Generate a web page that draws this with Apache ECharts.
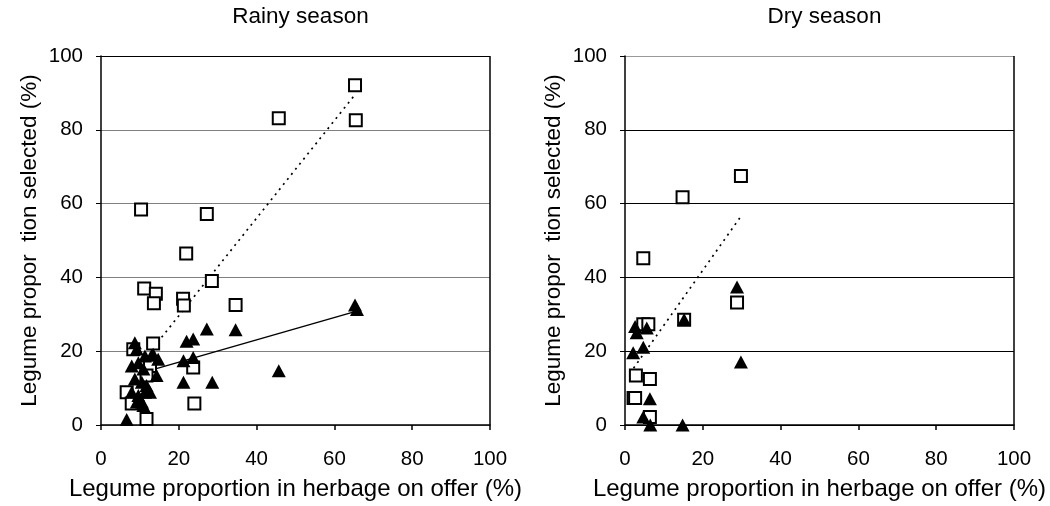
<!DOCTYPE html>
<html><head><meta charset="utf-8">
<script src="https://cdn.jsdelivr.net/npm/echarts@6/dist/echarts.min.js"></script>
<style>html,body{margin:0;padding:0;background:#fff}#c{width:1050px;height:506px}</style>
</head><body><div id="c"></div>
<script>
// ---- data ----
const titles = ['Rainy season', 'Dry season'];
const xName = 'Legume proportion in herbage on offer (%)';
const yName = 'Legume propor  tion selected (%)';
const tickValues = [0, 20, 40, 60, 80, 100];

const rainyOpen = [
  [65.3,92.1],[65.5,82.6],[45.7,83.1],[10.3,58.4],[27.2,57.2],[21.9,46.5],[28.5,39.0],
  [11.1,37.0],[14.1,35.6],[13.6,33.0],[21.1,34.2],[21.3,32.4],[34.6,32.5],
  [13.4,22.1],[8.3,20.5],[23.7,15.6],[12.6,16.0],[11.7,13.4],[6.6,8.9],[7.9,5.8],[24.0,5.8],[11.7,1.6]
];
const rainyFilled = [
  [65.3,32.5],[65.8,31.3],[27.2,26.0],[34.6,25.8],[23.7,23.3],[22.0,22.7],[21.2,17.4],[23.7,18.3],
  [21.2,11.6],[28.6,11.6],[45.7,14.7],
  [8.7,22.3],[9.2,20.6],[11.3,18.7],[13.4,19.2],[13.0,18.9],[14.7,17.8],[7.9,16.0],[9.6,16.9],[10.9,15.2],
  [14.3,13.4],[8.7,12.5],[10.5,11.6],[11.7,10.7],[7.9,8.9],[9.6,8.0],[11.3,8.9],[12.6,8.9],
  [10.9,5.3],[9.2,6.2],[10.5,6.2],[6.6,1.5]
];
const dryOpen = [
  [29.8,67.5],[14.8,61.7],[4.7,45.2],[28.8,33.2],[15.2,28.5],[4.7,27.3],[6.0,27.3],
  [2.8,13.4],[6.4,12.5],[2.2,7.3],[2.6,7.3],[6.4,2.2]
];
const dryFilled = [
  [28.8,37.4],[15.2,28.6],[2.6,26.7],[3.0,25.0],[5.6,26.3],[4.7,21.1],[2.1,19.6],
  [6.4,7.1],[4.7,2.2],[6.5,0],[14.8,0],[29.8,17.1]
];
// trend line end points [x, y]
const rainyOpenTrend = [[13.5,21.0],[65.5,89.8]];
const rainyFilledTrend = [[12.0,14.6],[65.5,30.8]];
const dryOpenTrend = [[2.2,15.4],[29.7,56.4]];

// ---- chart ----
const FONT = 'Liberation Sans, Arial, sans-serif';
const grids = [
  {left:101, top:56, width:389, height:374},
  {left:625, top:56, width:389, height:374}
];
const gridColors = ['#808080', '#000'];
const topColors = ['#000', '#999'];
const clear = 'rgba(0,0,0,0)';

function xAxis(i){
  return {
    gridIndex:i, type:'value', min:0, max:100, interval:20,
    name:xName, nameLocation:'middle', nameGap:52,
    nameTextStyle:{fontFamily:FONT, fontSize:24, color:'#000'},
    axisLine:{show:true, onZero:false, lineStyle:{color:'#000', width:1.5}},
    axisTick:{show:true, length:5, inside:false, lineStyle:{color:'#000', width:1.5}},
    axisLabel:{fontFamily:FONT, fontSize:20.5, color:'#000', margin:24,
      formatter: v => tickValues.includes(v) ? String(v) : ''},
    splitLine:{show:true, lineStyle:{color:[clear,clear,clear,clear,clear,'#000'], width:1.5}}
  };
}
function yAxis(i){
  const c = gridColors[i];
  return {
    gridIndex:i, type:'value', min:0, max:100, interval:20,
    name:yName, nameLocation:'middle', nameGap:60,
    nameTextStyle:{fontFamily:FONT, fontSize:22.5, color:'#000'},
    axisLine:{show:true, onZero:false, lineStyle:{color:'#000', width:1.5}},
    axisTick:{show:true, length:5, lineStyle:{color:'#000', width:1}},
    axisLabel:{fontFamily:FONT, fontSize:20.5, color:'#000', margin:18},
    splitLine:{show:true, lineStyle:{color:[c,c,c,c,c,topColors[i]], width:1.2}}
  };
}
function openSeries(i, data){
  return {type:'scatter', xAxisIndex:i, yAxisIndex:i, data:data, symbol:'rect', symbolSize:12,
    itemStyle:{color:'#fff', borderColor:'#000', borderWidth:2, opacity:1}, z:3, silent:true};
}
function filledSeries(i, data){
  return {type:'scatter', xAxisIndex:i, yAxisIndex:i, data:data, symbol:'triangle', symbolSize:[14,13],
    itemStyle:{color:'#000', opacity:1}, z:4, silent:true};
}
function trend(i, data, dotted){
  return {type:'line', xAxisIndex:i, yAxisIndex:i, data:data, symbol:'none', silent:true, z:2,
    lineStyle:{color:'#000', width:dotted?1.7:1.5, type:dotted?[2,4.5]:'solid'}};
}

const chart = echarts.init(document.getElementById('c'), null, {renderer:'canvas'});
chart.setOption({
  animation:false,
  backgroundColor:'#fff',
  title: titles.map((t,i)=>({
    text:t, left: grids[i].left + grids[i].width/2, top:0, textAlign:'center',
    textStyle:{fontFamily:FONT, fontSize:22.5, fontWeight:'normal', color:'#000'}
  })),
  grid: grids,
  xAxis: [xAxis(0), xAxis(1)],
  yAxis: [yAxis(0), yAxis(1)],
  series: [
    trend(0, rainyOpenTrend, true),
    trend(0, rainyFilledTrend, false),
    openSeries(0, rainyOpen),
    filledSeries(0, rainyFilled),
    trend(1, dryOpenTrend, true),
    openSeries(1, dryOpen),
    filledSeries(1, dryFilled)
  ]
});
</script></body></html>
